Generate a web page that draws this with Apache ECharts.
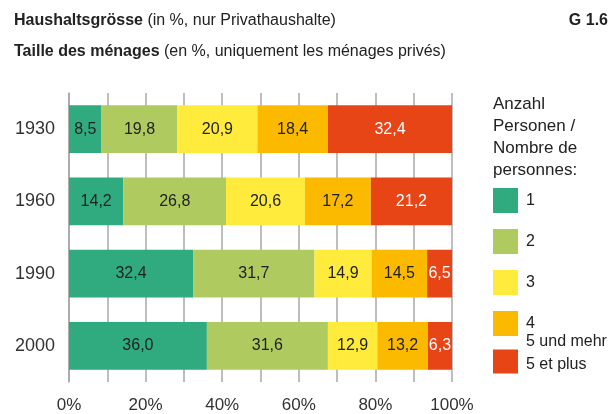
<!DOCTYPE html>
<html>
<head>
<meta charset="utf-8">
<script src="https://cdn.jsdelivr.net/npm/echarts@6/dist/echarts.min.js"></script>
<style>
html,body{margin:0;padding:0;background:#fff;}
#c{width:611px;height:414px;}
</style>
</head>
<body>
<div id="c"></div>
<script>
const categories = ['1930', '1960', '1990', '2000'];
const seriesNames = ['1', '2', '3', '4', '5 und mehr\n5 et plus'];
const s1 = [8.5, 14.2, 32.4, 36.0];
const s2 = [19.8, 26.8, 31.7, 31.6];
const s3 = [20.9, 20.6, 14.9, 12.9];
const s4 = [18.4, 17.2, 14.5, 13.2];
const s5 = [32.4, 21.2, 6.5, 6.3];
const tickLabels = ['0%', '20%', '40%', '60%', '80%', '100%'];
const colors = ['#2fab7f', '#afcb5f', '#ffeb3b', '#fbba00', '#e84516'];
const labelColors = ['#222', '#222', '#222', '#222', '#fff'];

const FONT = '"Liberation Sans Narrow", "Arial Narrow", "Liberation Sans", sans-serif';
const chart = echarts.init(document.getElementById('c'));
const all = [s1, s2, s3, s4, s5];

chart.setOption({
  animation: false,
  textStyle: { fontFamily: FONT },
  title: [
    {
      text: '{b|Haushaltsgrösse} (in %, nur Privathaushalte)',
      left: 9, top: 8,
      textStyle: { fontFamily: FONT, fontSize: 16, fontWeight: 'normal', color: '#222',
        rich: { b: { fontFamily: FONT, fontSize: 16, fontWeight: 'bold', color: '#222' } } }
    },
    {
      text: '{b|Taille des ménages} (en %, uniquement les ménages privés)',
      left: 9, top: 39,
      textStyle: { fontFamily: FONT, fontSize: 16, fontWeight: 'normal', color: '#222',
        rich: { b: { fontFamily: FONT, fontSize: 16, fontWeight: 'bold', color: '#222' } } }
    },
    {
      text: 'G 1.6',
      right: -2, top: 8,
      textStyle: { fontFamily: FONT, fontSize: 16, fontWeight: 'bold', color: '#222' }
    },
    {
      text: 'Anzahl\nPersonen /\nNombre de\npersonnes:',
      left: 488, top: 88,
      textStyle: { fontFamily: FONT, fontSize: 17, fontWeight: 'normal', color: '#222', lineHeight: 22 }
    }
  ],
  legend: [
    {
      orient: 'vertical',
      left: 488, top: 183,
      itemWidth: 25, itemHeight: 25,
      itemGap: 16,
      icon: 'rect',
      textStyle: { fontFamily: FONT, fontSize: 16, color: '#222', padding: [0, 0, 0, 3] },
      data: seriesNames.slice(0, 4)
    },
    {
      orient: 'vertical',
      left: 488, top: 329,
      itemWidth: 25, itemHeight: 24,
      icon: 'rect',
      formatter: function (name) {
        return name.split('\n').map(function (t) { return '{a|' + t + '}'; }).join('\n') + '\n{s| }';
      },
      textStyle: {
        fontFamily: FONT, fontSize: 16, color: '#222', padding: [0, 0, 0, 3],
        rich: {
          a: { fontFamily: FONT, fontSize: 16, color: '#222', lineHeight: 23 },
          s: { fontSize: 10, lineHeight: 16 }
        }
      },
      data: seriesNames.slice(4)
    }
  ],
  grid: { left: 69, right: 159, top: 93, bottom: 31, containLabel: false },
  xAxis: {
    type: 'value', min: 0, max: 100, interval: 10,
    axisLine: { show: false }, axisTick: { show: false },
    splitLine: { show: true, lineStyle: { color: '#a8a8a8', width: 1.5 } },
    axisLabel: {
      fontFamily: FONT, fontSize: 17, color: '#333', margin: 15,
      formatter: function (v) { return v % 20 === 0 ? tickLabels[v / 20] : ''; }
    }
  },
  yAxis: {
    type: 'category', data: categories, inverse: true,
    axisLine: { show: true, lineStyle: { color: '#a8a8a8', width: 1.5 } },
    axisTick: { show: false },
    axisLabel: { fontFamily: FONT, fontSize: 18, color: '#333', margin: 14 }
  },
  series: all.map(function (d, i) {
    return {
      name: seriesNames[i], type: 'bar', stack: 'total', data: d,
      barCategoryGap: '34%',
      itemStyle: { color: colors[i] },
      label: {
        show: true, position: 'inside', fontFamily: FONT, fontSize: 16, color: labelColors[i],
        formatter: function (p) { return p.value.toFixed(1).replace('.', ','); }
      }
    };
  })
});
</script>
</body>
</html>
